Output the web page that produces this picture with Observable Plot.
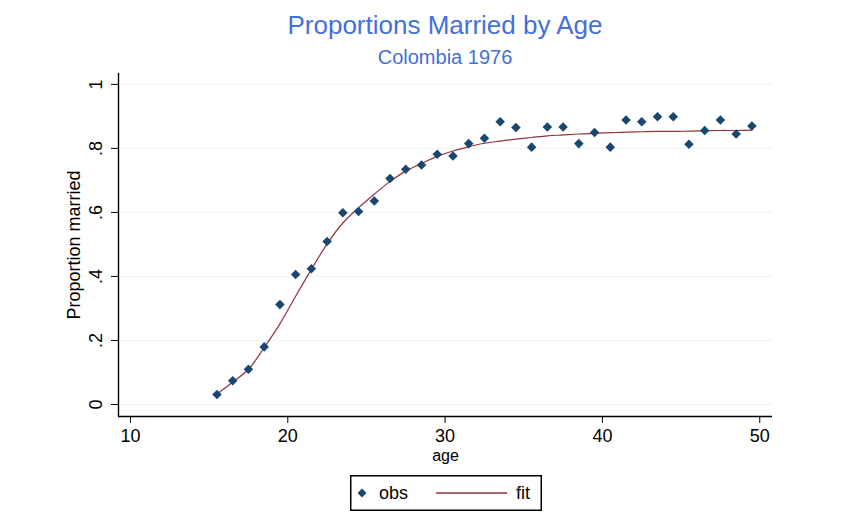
<!DOCTYPE html>
<html>
<head>
<meta charset="utf-8">
<script src="https://cdn.jsdelivr.net/npm/d3@7"></script>
<script src="https://cdn.jsdelivr.net/npm/@observablehq/plot@0.6"></script>
<style>
  html, body { margin: 0; padding: 0; background: #fff; }
  #wrap { position: relative; width: 848px; height: 527px; font-family: Arial, "Liberation Sans", sans-serif; }
  .title { position: absolute; left: 0; width: 890px; text-align: center; color: #4470d8; white-space: nowrap; }
  #t1 { top: 12px; font-size: 26px; line-height: 26px; }
  #t2 { top: 47px; font-size: 20px; line-height: 20px; }
  #chart { position: absolute; left: 0; top: 65px; }
  #legend { position: absolute; left: 350px; top: 475px; }
</style>
</head>
<body>
<div id="wrap">
  <div class="title" id="t1">Proportions Married by Age</div>
  <div class="title" id="t2">Colombia 1976</div>
  <div id="chart"></div>
  <div id="legend"></div>
</div>
<script>
// ages (midpoints)
const ages = [15.5,16.5,17.5,18.5,19.5,20.5,21.5,22.5,23.5,24.5,25.5,26.5,27.5,28.5,29.5,30.5,31.5,32.5,33.5,34.5,35.5,36.5,37.5,38.5,39.5,40.5,41.5,42.5,43.5,44.5,45.5,46.5,47.5,48.5,49.5];
// observed proportions married
const obs = [0.031,0.074,0.110,0.180,0.312,0.406,0.424,0.509,0.599,0.603,0.636,0.706,0.735,0.748,0.782,0.776,0.815,0.832,0.883,0.865,0.804,0.867,0.867,0.815,0.850,0.804,0.889,0.883,0.899,0.899,0.813,0.856,0.889,0.845,0.870];
// fitted proportions
const fit = [0.032,0.070,0.110,0.178,0.252,0.338,0.422,0.502,0.567,0.615,0.657,0.697,0.729,0.753,0.775,0.792,0.805,0.816,0.823,0.829,0.834,0.839,0.842,0.845,0.847,0.849,0.851,0.852,0.853,0.853,0.854,0.855,0.856,0.856,0.857];
// axis ticks
const xTicks = [10,20,30,40,50];
const yTicks = [0,0.2,0.4,0.6,0.8,1];
const yTickLabels = ["0",".2",".4",".6",".8","1"];

const data = ages.map((a,i) => ({age: a, obs: obs[i], fit: fit[i]}));
const xDomain = [9.24, 50.81];
const yDomain = [-0.0375, 1.034];
const navy = "#1a476f";
const maroon = "#90353b";
const font = "Arial, 'Liberation Sans', sans-serif";

const chart = Plot.plot({
  width: 848,
  height: 400,
  marginLeft: 118,
  marginRight: 76,
  marginTop: 8,
  marginBottom: 49,
  style: {fontFamily: font, fontSize: "18px", color: "#000", background: "transparent"},
  x: {domain: xDomain, label: null},
  y: {domain: yDomain, label: null},
  marks: [
    Plot.ruleY(yTicks, {stroke: "#f2f2f2", strokeWidth: 1}),
    Plot.ruleX([xDomain[0]], {stroke: "#000", strokeWidth: 1.4}),
    Plot.ruleY([yDomain[0]], {stroke: "#000", strokeWidth: 1.4}),
    Plot.axisX({ticks: xTicks, tickSize: 7, tickPadding: 6, tickFormat: d => String(d), fontSize: 18, label: null}),
    Plot.axisY({ticks: yTicks, tickSize: 7, tickFormat: () => "", label: null}),
    Plot.text(yTicks, {y: d => d, text: (d, i) => yTickLabels[i], frameAnchor: "left", dx: -22, rotate: -90, textAnchor: "middle", fontSize: 18}),
    Plot.text(["Proportion married"], {frameAnchor: "left", dx: -44, rotate: -90, textAnchor: "middle", fontSize: 18}),
    Plot.text(["age"], {frameAnchor: "bottom", dy: 44, textAnchor: "middle", fontSize: 16}),
    Plot.line(data, {x: "age", y: "fit", stroke: maroon, strokeWidth: 1.2, curve: "catmull-rom"}),
    Plot.dot(data, {x: "age", y: "obs", symbol: "diamond2", r: 4.3, fill: navy, stroke: "none"})
  ]
});
document.getElementById("chart").appendChild(chart);

// legend
const lg = d3.select("#legend").append("svg").attr("width", 192).attr("height", 36);
lg.append("rect").attr("x", 0.75).attr("y", 0.75).attr("width", 190.5).attr("height", 34.5).attr("fill", "#fff").attr("stroke", "#000").attr("stroke-width", 1.5);
lg.append("path").attr("d", d3.symbol(d3.symbolDiamond2, 4.0*4.0*Math.PI)()).attr("transform", "translate(12,18)").attr("fill", navy);
lg.append("text").attr("x", 29).attr("y", 18).attr("dy", "0.35em").attr("font-family", font).attr("font-size", 18).text("obs");
lg.append("line").attr("x1", 86).attr("x2", 157).attr("y1", 18).attr("y2", 18).attr("stroke", maroon).attr("stroke-width", 1.3);
lg.append("text").attr("x", 166).attr("y", 18).attr("dy", "0.35em").attr("font-family", font).attr("font-size", 18).text("fit");
</script>
</body>
</html>
